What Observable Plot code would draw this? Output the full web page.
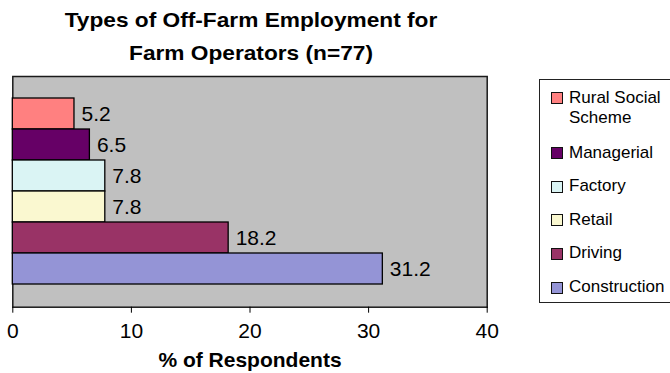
<!DOCTYPE html>
<html>
<head>
<meta charset="utf-8">
<script src="https://cdn.jsdelivr.net/npm/d3@7"></script>
<script src="https://cdn.jsdelivr.net/npm/@observablehq/plot@0.6"></script>
<style>
  body { margin: 0; background: #fff; font-family: "Liberation Sans", Arial, Helvetica, sans-serif; }
  #chart { position: relative; width: 670px; height: 373px; overflow: hidden; background: #fff; }
  #chart svg { position: absolute; left: 0; top: 0; }
  #chart svg [aria-label="x-axis label"] text { font-weight: bold; }
  .title {
    position: absolute; left: 51px; width: 400px; top: 3px;
    text-align: center; font-weight: bold; font-size: 21px; line-height: 33px; color: #000;
    transform: scaleX(1.08); transform-origin: 200px 0;
  }
  .legend {
    position: absolute; left: 539px; top: 79px; width: 140px; height: 222px;
    border: 1px solid #222; background: #fff; box-sizing: content-box;
  }
  .legend .item { position: absolute; left: 29px; width: 100px; font-size: 17px; line-height: 20.5px; color: #000; }
  .legend .sw {
    position: absolute; left: -18.5px; top: 4.5px; width: 10px; height: 10px;
    border: 1px solid #111;
  }
</style>
</head>
<body>
<div id="chart"></div>
<script>
// Off-farm employment types reported by farm operators (n=77)
const categories = ["Rural Social Scheme", "Managerial", "Factory", "Retail", "Driving", "Construction"];
const percents = [5.2, 6.5, 7.8, 7.8, 18.2, 31.2];
const colors = ["#ff8080", "#660066", "#daf4f4", "#faf8d0", "#993366", "#9494d6"];
const xTicks = [0, 10, 20, 30, 40];
const titleLines = ["Types of Off-Farm Employment for", "Farm Operators (n=77)"];
const xLabel = "% of Respondents";

const rows = categories.map((category, i) => ({category, percent: percents[i]}));

const chart = document.getElementById("chart");

const plot = Plot.plot({
  width: 670,
  height: 373,
  marginLeft: 12.3,
  marginRight: 183.3,
  marginTop: 76,
  marginBottom: 66.3,
  style: {fontFamily: "'Liberation Sans', Arial, Helvetica, sans-serif", fontSize: "21px", color: "#000", background: "transparent", overflow: "visible"},
  x: {domain: [0, 40]},
  y: {domain: categories, paddingInner: 0, paddingOuter: 0.72, axis: null},
  color: {domain: categories, range: colors},
  marks: [
    Plot.frame({fill: "#c0c0c0", stroke: "#1a1a1a", strokeWidth: 1.5}),
    Plot.barX(rows, {y: "category", x: "percent", fill: "category", stroke: "#000", strokeWidth: 1.3}),
    Plot.text(rows, {y: "category", x: "percent", text: d => d.percent.toFixed(1), textAnchor: "start", dx: 7, fontSize: 21}),
    Plot.axisX({ticks: xTicks, tickSize: 6, tickPadding: 10, fontSize: 21, stroke: "#000",
      label: xLabel, labelAnchor: "center", labelOffset: 60, labelArrow: "none"})
  ]
});
chart.appendChild(plot);

// Title
const title = document.createElement("div");
title.className = "title";
title.innerHTML = titleLines.join("<br>");
chart.appendChild(title);

// Legend box, listed top to bottom in the same order as the bars
const legend = document.createElement("div");
legend.className = "legend";
const tops = [7.7, 62.7, 96.4, 129.7, 163.1, 197.1];
categories.forEach((c, i) => {
  const item = document.createElement("div");
  item.className = "item";
  item.style.top = tops[i] + "px";
  const sw = document.createElement("span");
  sw.className = "sw";
  sw.style.background = colors[i];
  item.appendChild(sw);
  item.appendChild(document.createTextNode(c));
  legend.appendChild(item);
});
chart.appendChild(legend);
</script>
</body>
</html>
